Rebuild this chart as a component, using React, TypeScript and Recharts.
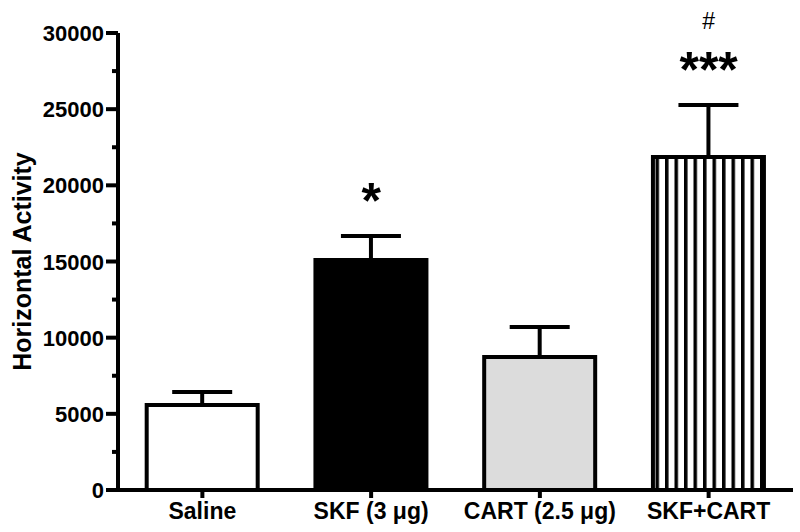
import React from 'react';
import { BarChart, Bar, XAxis, YAxis, Cell, ErrorBar, ReferenceDot } from 'recharts';

const groups = ['Saline', 'SKF (3 μg)', 'CART (2.5 μg)', 'SKF+CART'];
const means = [5580, 15100, 8730, 21860];
const sems = [850, 1580, 1970, 3410];
const fills = ['#ffffff', '#000000', '#dcdcdc', 'url(#vstripes)'];
const stars = ['', '*', '', '***'];
const hashes = ['', '', '', '#'];
const yTicks = [0, 2500, 5000, 7500, 10000, 12500, 15000, 17500, 20000, 22500, 25000, 27500, 30000];

const FONT = '"Liberation Sans", Arial, Helvetica, sans-serif';

const chartData = groups.map((g, i) => ({
    name: g,
    value: means[i],
    err: [0, sems[i]],
    top: means[i] + sems[i],
}));

const YTick = (props: any) => {
    const { x, y, payload } = props;
    const major = payload.value % 5000 === 0;
    return (
        <g>
            <line x1={x - (major ? 12 : 6)} y1={y} x2={x} y2={y} stroke="#000" strokeWidth={4} />
            {major && (
                <text x={x - 14} y={y} dy={8} textAnchor="end" fontFamily={FONT} fontWeight="bold" fontSize={22} fill="#000">
                    {payload.value}
                </text>
            )}
        </g>
    );
};

const XTick = (props: any) => {
    const { x, y, payload } = props;
    return (
        <text x={x} y={y} dy={17} textAnchor="middle" fontFamily={FONT} fontWeight="bold" fontSize={23} fill="#000">
            {payload.value}
        </text>
    );
};

const markLabel = (text: string, dy: number, size: number, weight: string) => (props: any) => {
    const { viewBox } = props;
    if (!text) return null;
    return (
        <text x={viewBox.x} y={viewBox.y + dy} textAnchor="middle" fontFamily={FONT} fontWeight={weight} fontSize={size} fill="#000">
            {text}
        </text>
    );
};

export default function App() {
    return (
        <div style={{ position: 'absolute', left: 0, top: 0, background: '#fff' }}>
            <BarChart
                width={800}
                height={532}
                data={chartData}
                margin={{ top: 33, right: 7, bottom: 12, left: 0 }}
                barCategoryGap="17%"
            >
                <defs>
                    <pattern id="vstripes" patternUnits="userSpaceOnUse" width={9.5} height={10}>
                        <rect x={0} y={0} width={9.5} height={10} fill="#fff" />
                        <rect x={0} y={0} width={3.5} height={10} fill="#000" />
                    </pattern>
                </defs>
                <XAxis
                    dataKey="name"
                    height={30}
                    axisLine={{ stroke: '#000', strokeWidth: 4 }}
                    tickLine={{ stroke: '#000', strokeWidth: 4 }}
                    tickSize={8}
                    tickMargin={4}
                    tick={<XTick />}
                    interval={0}
                />
                <YAxis
                    width={118}
                    domain={[0, 30000]}
                    ticks={yTicks}
                    interval={0}
                    axisLine={{ stroke: '#000', strokeWidth: 4 }}
                    tickLine={false}
                    tickSize={0}
                    tickMargin={0}
                    tick={<YTick />}
                    label={{
                        value: 'Horizontal Activity',
                        angle: -90,
                        position: 'insideLeft',
                        offset: 22,
                        style: { textAnchor: 'middle', fontFamily: FONT, fontWeight: 'bold', fontSize: 25, fill: '#000' },
                    }}
                />
                <Bar dataKey="value" stroke="#000" strokeWidth={4} isAnimationActive={false}>
                    {chartData.map((d, i) => (
                        <Cell key={`c-${i}`} fill={fills[i]} />
                    ))}
                    <ErrorBar dataKey="err" width={30} stroke="#000" strokeWidth={4} direction="y" />
                </Bar>
                {chartData.map((d, i) =>
                    stars[i] ? (
                        <ReferenceDot
                            key={`s-${i}`}
                            x={d.name}
                            y={d.top}
                            r={0}
                            fill="none"
                            stroke="none"
                            label={markLabel(stars[i], -18, 50, 'bold')}
                        />
                    ) : null
                )}
                {chartData.map((d, i) =>
                    hashes[i] ? (
                        <ReferenceDot
                            key={`h-${i}`}
                            x={d.name}
                            y={d.top}
                            r={0}
                            fill="none"
                            stroke="none"
                            label={markLabel(hashes[i], -76, 23, 'normal')}
                        />
                    ) : null
                )}
            </BarChart>
        </div>
    );
}
